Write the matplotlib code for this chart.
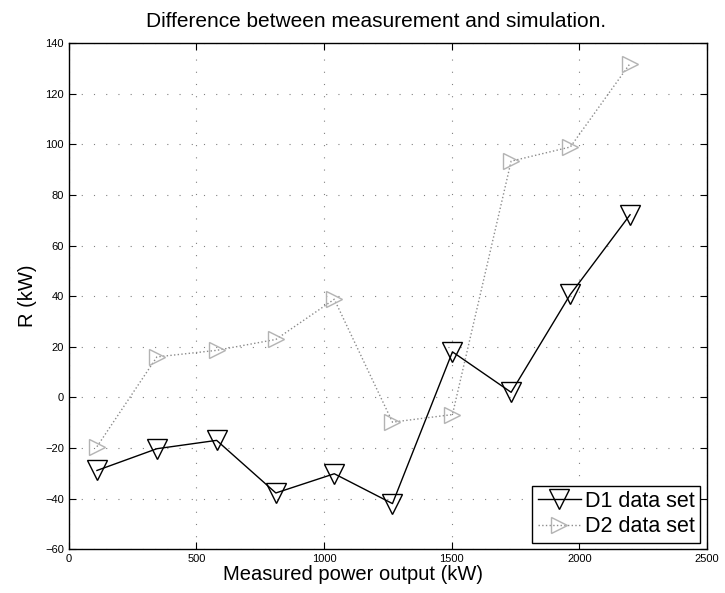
import matplotlib.pyplot as plt

# data
power = [110, 345, 579, 811, 1040, 1268, 1503, 1733, 1965, 2199]
d1_r = [-28.9, -20.3, -17.0, -37.8, -30.2, -42.0, 18.0, 2.0, 40.7, 72.2]
d2_r = [-19.5, 16.0, 18.6, 22.9, 38.8, -9.8, -6.8, 93.4, 99.0, 132.0]

plt.rcParams["font.family"] = ["Liberation Sans", "DejaVu Sans"]

fig = plt.figure(figsize=(7.25, 5.93), dpi=100)
ax = fig.add_axes([0.095, 0.074, 0.88, 0.853])

ax.plot(power, d1_r, color="black", lw=1.0, marker="v", markersize=14,
        markerfacecolor="none", markeredgecolor="black", markeredgewidth=1.0,
        label="D1 data set")
ax.plot(power, d2_r, color="0.55", lw=1.0, linestyle=":", marker=">", markersize=12,
        markerfacecolor="none", markeredgecolor="0.7", markeredgewidth=1.0,
        label="D2 data set")

ax.set_xlim(0, 2500)
ax.set_ylim(-60, 140)
ax.set_xticks(range(0, 2501, 500))
ax.set_yticks(range(-60, 141, 20))
ax.tick_params(direction="in", top=True, right=True, labelsize=8, length=5, width=0.8)
ax.grid(True, color="0.5", linestyle=(0, (1, 10)), linewidth=0.8)
for s in ax.spines.values():
    s.set_linewidth(1.0)

ax.set_title("Difference between measurement and simulation.", fontsize=15, pad=12, x=0.482)
ax.set_xlabel("Measured power output (kW)", fontsize=14.5, labelpad=1, x=0.445)
ax.set_ylabel("R (kW)", fontsize=14.5, labelpad=6)

leg = ax.legend(loc="lower right", fontsize=15.5, fancybox=False, framealpha=1,
                edgecolor="black", borderpad=0.25, handlelength=2.0,
                handletextpad=0.2, labelspacing=0.2, borderaxespad=0.3)
leg.get_frame().set_linewidth(1.0)

fig.savefig("out.png", dpi=100)
